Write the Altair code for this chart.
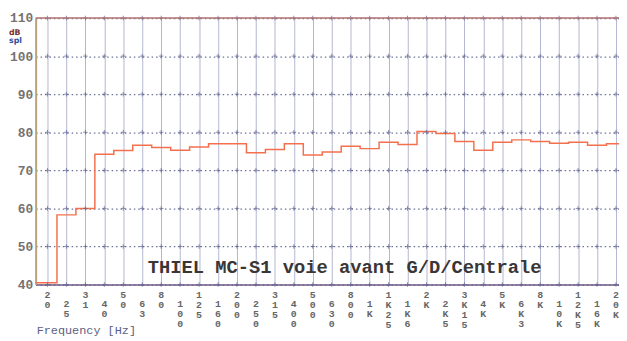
import altair as alt
import pandas as pd

# ---- data ----
bands = ["20", "25", "31", "40", "50", "63", "80", "100", "125", "160", "200",
         "250", "315", "400", "500", "630", "800", "1K", "1K25", "1K6", "2K",
         "2K5", "3K15", "4K", "5K", "6K3", "8K", "10K", "12K5", "16K", "20K"]
levels = [40.5, 58.3, 60.0, 74.2, 75.2, 76.6, 76.0, 75.3, 76.1, 77.0, 77.0,
          74.6, 75.5, 77.0, 74.0, 74.8, 76.3, 75.7, 77.4, 76.8, 80.2,
          79.7, 77.6, 75.3, 77.4, 78.0, 77.6, 77.1, 77.4, 76.6, 77.0]
db_ticks = [40, 50, 60, 70, 80, 90, 100, 110]
title_text = "THIEL MC-S1 voie avant G/D/Centrale"
x_title = "Frequency [Hz]"
unit_db = "dB"
unit_spl = "spl"

# ---- layout ----
W, H = 591, 270
XDOM = [-0.625, 30.16]

n = len(bands)
idx = list(range(n))
line_df = pd.DataFrame({"i": [XDOM[0]] + idx + [XDOM[1]],
                        "v": [levels[0]] + levels + [levels[-1]]})
label_df = pd.DataFrame({"i": idx,
                         "lab": ["\n".join(list(b)) for b in bands],
                         "row": [k % 2 for k in idx]})
cross_df = pd.DataFrame([(i, d) for i in idx for d in db_ticks], columns=["i", "v"])
one = pd.DataFrame({"k": [0]})

xscale = alt.Scale(domain=XDOM, nice=False, zero=False)
yscale = alt.Scale(domain=[40, 110], nice=False, zero=False)

xaxis = alt.Axis(values=idx, grid=True, gridColor="#b4b6d0", gridWidth=1,
                 labels=False, ticks=False, domain=True,
                 domainColor="#6e5a86", domainWidth=1.5, title=None)
yaxis = alt.Axis(values=db_ticks, tickCount=8, grid=True, gridColor="#6d7196",
                 gridDash=[1.5, 3], gridWidth=1.3, ticks=False,
                 labelOverlap=False, labelFlush=False,
                 labelPadding=3, labelFont="Liberation Mono",
                 labelFontSize=13, labelFontWeight="bold",
                 labelColor="#767272", domainColor="#b9a27a",
                 domainWidth=2, title=None)

X = alt.X("i:Q", scale=xscale, axis=xaxis, title=None)
Y = alt.Y("v:Q", scale=yscale, axis=yaxis, title=None)

line = alt.Chart(line_df).mark_line(
    interpolate="step", color="#f4704c", strokeWidth=1.5
).encode(x=X, y=Y)

crosses = alt.Chart(cross_df).mark_point(
    shape="M-1,0H1M0,-1V1", size=22, filled=False, stroke="#5d6290", strokeWidth=1
).encode(x=X, y=Y)

lab_style = dict(lineBreak="\n", font="Liberation Mono", fontSize=10,
                 fontWeight="bold", color="#666666", baseline="top",
                 lineHeight=10, align="center")
labels_hi = alt.Chart(label_df).transform_filter("datum.row == 0").mark_text(**lab_style).encode(
    x=X, y=alt.value(H + 6), text="lab:N")
labels_lo = alt.Chart(label_df).transform_filter("datum.row == 1").mark_text(**lab_style).encode(
    x=X, y=alt.value(H + 15), text="lab:N")

top_rule = alt.Chart(one).mark_rule(color="#b07070", strokeWidth=1.5).encode(
    y=alt.value(0), x=alt.value(0), x2=alt.value(W))

title = alt.Chart(one).mark_text(
    text=title_text, font="Liberation Mono", fontSize=19, fontWeight="bold",
    color="#3a3636", align="center", baseline="alphabetic"
).encode(x=alt.value(313), y=alt.value(258))

xt = alt.Chart(one).mark_text(
    text=x_title, font="Liberation Mono", fontSize=12, color="#5c6080",
    align="left", baseline="alphabetic"
).encode(x=alt.value(1), y=alt.value(320))

udb = alt.Chart(one).mark_text(
    text=unit_db, font="DejaVu Sans", fontSize=8, fontWeight="bold",
    color="#7a3030", align="left", baseline="middle"
).encode(x=alt.value(-27), y=alt.value(15))

uspl = alt.Chart(one).mark_text(
    text=unit_spl, font="DejaVu Sans", fontSize=8, fontWeight="bold",
    color="#3050a0", align="left", baseline="middle"
).encode(x=alt.value(-27), y=alt.value(23))

chart = alt.layer(line, crosses, labels_hi, labels_lo, top_rule, title, xt, udb, uspl).properties(
    width=W, height=H,
    autosize=alt.AutoSizeParams(type="none"),
    padding={"left": 28, "top": 8, "right": 0, "bottom": 54},
    background="white",
).configure_view(stroke=None)

chart.save("out.html", embed_options={"renderer": "svg", "actions": False})
